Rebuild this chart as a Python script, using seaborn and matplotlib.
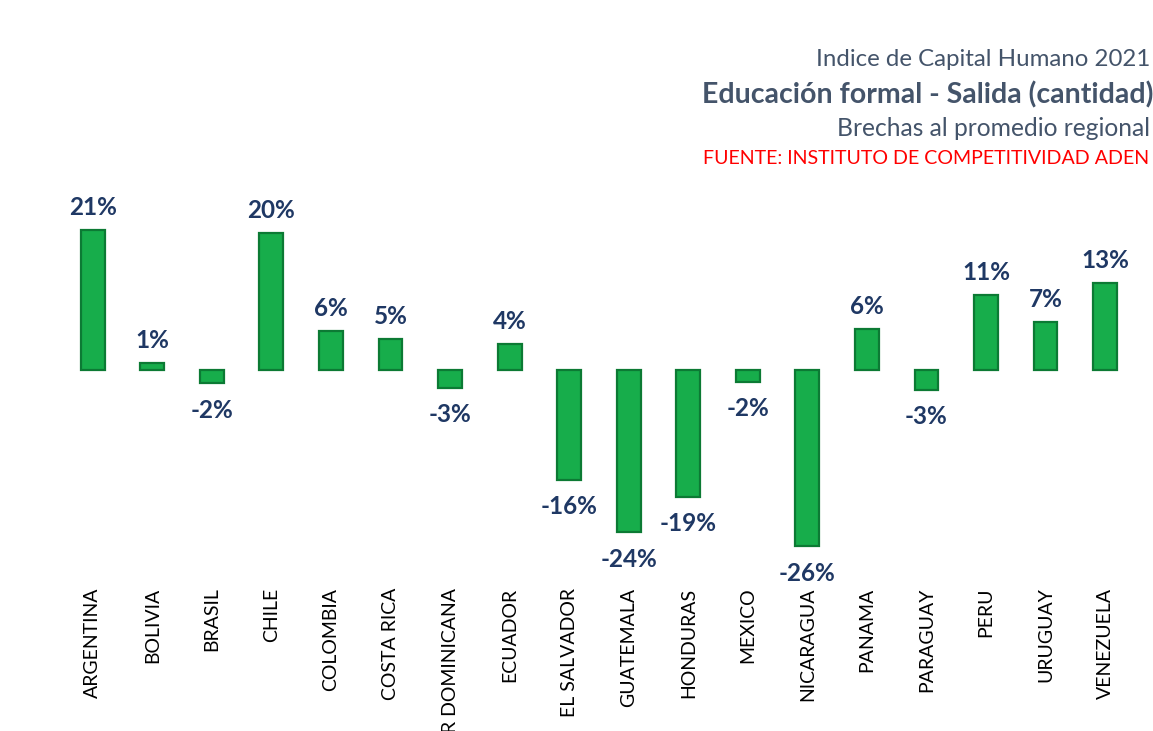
"""
Indice de Capital Humano 2021 - Educación formal, brechas al promedio regional.
"""

import matplotlib
matplotlib.use("Agg")
import matplotlib.pyplot as plt
import pandas as pd
import seaborn as sns

# Data
paises = [
    "ARGENTINA", "BOLIVIA", "BRASIL", "CHILE", "COLOMBIA", "COSTA RICA",
    "R DOMINICANA", "ECUADOR", "EL SALVADOR", "GUATEMALA", "HONDURAS",
    "MEXICO", "NICARAGUA", "PANAMA", "PARAGUAY", "PERU", "URUGUAY", "VENEZUELA",
]
brechas = [
    0.210, 0.010, -0.020, 0.205, 0.058, 0.046, -0.026, 0.039, -0.164,
    -0.243, -0.190, -0.018, -0.264, 0.061, -0.030, 0.112, 0.072, 0.130,
]

titulo = "Indice de Capital Humano 2021"
subtitulo = "Educación formal - Salida (cantidad)"
detalle = "Brechas al promedio regional"
fuente = "FUENTE: INSTITUTO DE COMPETITIVIDAD ADEN"

# Style
sns.set_style("white")
plt.rcParams["font.family"] = ["Lato", "DejaVu Sans"]

VERDE = "#17ad4b"
BORDE = "#0c7a34"
AZUL = "#1f3864"
GRIS_AZUL = "#44546a"

df = pd.DataFrame({"pais": paises, "brecha": brechas})

fig = plt.figure(figsize=(11.53, 7.31), dpi=100)
ax = fig.add_axes([0.0546, 0.2134, 0.9297, 0.5267])

sns.barplot(data=df, x="pais", y="brecha", color=VERDE, width=0.4,
            edgecolor=BORDE, linewidth=1.6, saturation=1, ax=ax)

ax.set_ylim(-0.307, 0.27)
ax.set_xlabel("")
ax.set_ylabel("")
ax.set_yticks([])
for s in ax.spines.values():
    s.set_visible(False)

ax.tick_params(axis="x", length=0, pad=9)
plt.setp(ax.get_xticklabels(), rotation=90, fontsize=14, color="black",
         va="top", ha="center")

# Data labels
for i, v in enumerate(brechas):
    if v >= 0:
        ax.annotate(f"{v:.0%}", (i, v), xytext=(0, 8), textcoords="offset points",
                    ha="center", va="bottom", fontsize=17.5, fontweight="bold", color=AZUL)
    else:
        ax.annotate(f"{v:.0%}", (i, v), xytext=(0, -11), textcoords="offset points",
                    ha="center", va="top", fontsize=17.5, fontweight="bold", color=AZUL)

# Titles
fig.text(1150 / 1153, 1 - 60 / 731, titulo, ha="right", va="center",
         fontsize=17.3, color=GRIS_AZUL)
fig.text(1153 / 1153, 1 - 95 / 731, subtitulo, ha="right", va="center",
         fontsize=20.5, fontweight="bold", color=GRIS_AZUL)
fig.text(1150 / 1153, 1 - 129 / 731, detalle, ha="right", va="center",
         fontsize=17.7, color=GRIS_AZUL)
fig.text(703 / 1153, 1 - 159 / 731, fuente, ha="left", va="center",
         fontsize=14.1, color="#ff0000")

plt.savefig("out.png", dpi=100)
plt.close()
